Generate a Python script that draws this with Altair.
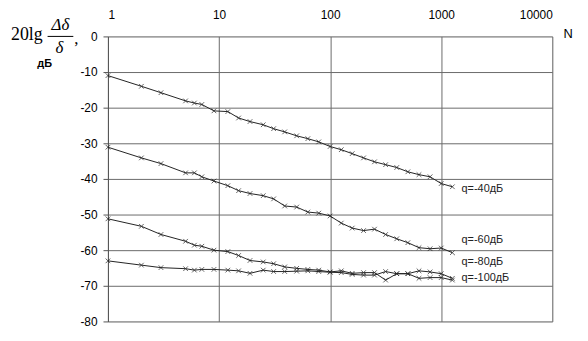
import altair as alt
import pandas as pd

N = [1, 2, 3, 5, 6, 7, 9, 12, 15, 19, 25, 31, 39, 50, 63, 79, 100,
     126, 158, 200, 251, 316, 398, 501, 631, 794, 1000, 1260]
q40 = [-11.0, -14.0, -15.8, -18.1, -18.7, -19.1, -20.9, -21.1, -22.9, -23.9, -24.8, -25.9, -26.8, -27.9,
       -28.7, -29.6, -30.9, -31.8, -32.9, -34.1, -35.2, -36.0, -36.8, -38.0, -38.8, -39.4, -41.3, -42.2]
q60 = [-31.1, -34.1, -35.7, -38.3, -38.3, -39.4, -40.6, -41.9, -43.3, -44.1, -44.7, -45.6, -47.6, -47.9,
       -49.3, -49.6, -50.4, -52.4, -53.8, -54.5, -54.1, -55.6, -56.8, -57.9, -59.3, -59.6, -59.4, -60.7]
q80 = [-51.2, -53.3, -55.6, -57.5, -58.6, -58.9, -60.0, -60.4, -61.5, -62.9, -63.3, -63.8, -64.7, -65.1,
       -65.4, -65.6, -66.1, -65.8, -66.5, -66.3, -66.3, -68.4, -66.6, -66.6, -65.8, -66.1, -66.6, -67.9]
q100 = [-63.0, -64.2, -64.9, -65.2, -65.6, -65.4, -65.4, -65.6, -65.8, -66.5, -65.6, -66.0, -66.0, -65.9,
        -65.8, -66.0, -66.2, -66.3, -66.8, -67.0, -67.0, -66.0, -66.6, -66.6, -67.9, -67.7, -67.7, -68.4]

series = ["q=-40дБ", "q=-60дБ", "q=-80дБ", "q=-100дБ"]
label_x = [1525, 1525, 1525, 1525]
label_y = [-42.9, -57.2, -63.4, -67.9]
x_ticks = [1, 10, 100, 1000, 10000]
y_ticks = [-80, -70, -60, -50, -40, -30, -20, -10, 0]

rows = []
for name, vals in zip(series, [q40, q60, q80, q100]):
    for n, v in zip(N, vals):
        rows.append({"N": n, "dB": v, "q": name})
df = pd.DataFrame(rows)
labels = pd.DataFrame({"q": series, "N": label_x, "dB": label_y})

FONT = "Liberation Sans"
xs = alt.Scale(type="log", domain=[1, 10000], nice=False)
ys = alt.Scale(domain=[-80, 0], nice=False)

x_axis = alt.Axis(orient="top", values=x_ticks, labelExpr="'' + datum.value", title=None, tickSize=0,
                  labelPadding=15, grid=True, gridColor="#6a6a6a", domain=False, labelOverlap=False,
                  labelFont=FONT, labelFontSize=12, labelColor="black")
y_axis = alt.Axis(values=y_ticks, labelExpr="'' + datum.value", title=None, tickSize=5,
                  tickColor="#555", labelPadding=6, grid=True, gridColor="#6a6a6a", domainColor="#555",
                  labelOverlap=False, labelFont=FONT, labelFontSize=12, labelColor="black")

X = alt.X("N:Q", scale=xs, axis=x_axis)
Y = alt.Y("dB:Q", scale=ys, axis=y_axis)

lines = alt.Chart(df).mark_line(color="#222", strokeWidth=1).encode(x=X, y=Y, detail="q:N")
points = alt.Chart(df).mark_point(
    shape="M-1,-1L1,1M1,-1L-1,1", size=22, filled=False, color="#222", strokeWidth=1
).encode(x=X, y=Y)

series_text = alt.Chart(labels).mark_text(
    align="left", baseline="middle", font=FONT, fontSize=11, color="#222"
).encode(x=X, y=Y, text="q:N")

one = pd.DataFrame({"a": [0]})

def txt(t, x, y, **kw):
    return alt.Chart(one).mark_text(text=t, **kw).encode(x=alt.value(x), y=alt.value(y))

n_title = txt("N", 465, -2, font=FONT, fontSize=13, color="black", align="center", baseline="middle")
t20 = txt("20lg", -82, -1, font="Liberation Serif", fontSize=18, color="black", align="center", baseline="middle")
tnum = txt("Δδ", -48, -11, font="Liberation Serif", fontSize=17, fontStyle="italic", color="black", align="center", baseline="middle")
tden = txt("δ", -49, 12, font="Liberation Serif", fontSize=17, fontStyle="italic", color="black", align="center", baseline="middle")
tcom = txt(",", -32, 3, font="Liberation Serif", fontSize=17, color="black", align="center", baseline="middle")
tdb = txt("дБ", -64, 28, font=FONT, fontSize=11, fontWeight="bold", color="black", align="center", baseline="middle")
frac = alt.Chart(one).mark_rule(color="black", strokeWidth=1).encode(
    x=alt.value(-61), x2=alt.value(-35), y=alt.value(0))

chart = alt.layer(lines, points, series_text, n_title, t20, tnum, tden, tcom, tdb, frac).properties(
    width=449, height=288,
    autosize=alt.AutoSizeParams(type="none"),
    padding={"left": 101, "top": 27, "right": 28, "bottom": 12},
).configure_view(strokeWidth=0).configure(background="white")

chart.save("out.html", embed_options={"renderer": "svg", "actions": False})
